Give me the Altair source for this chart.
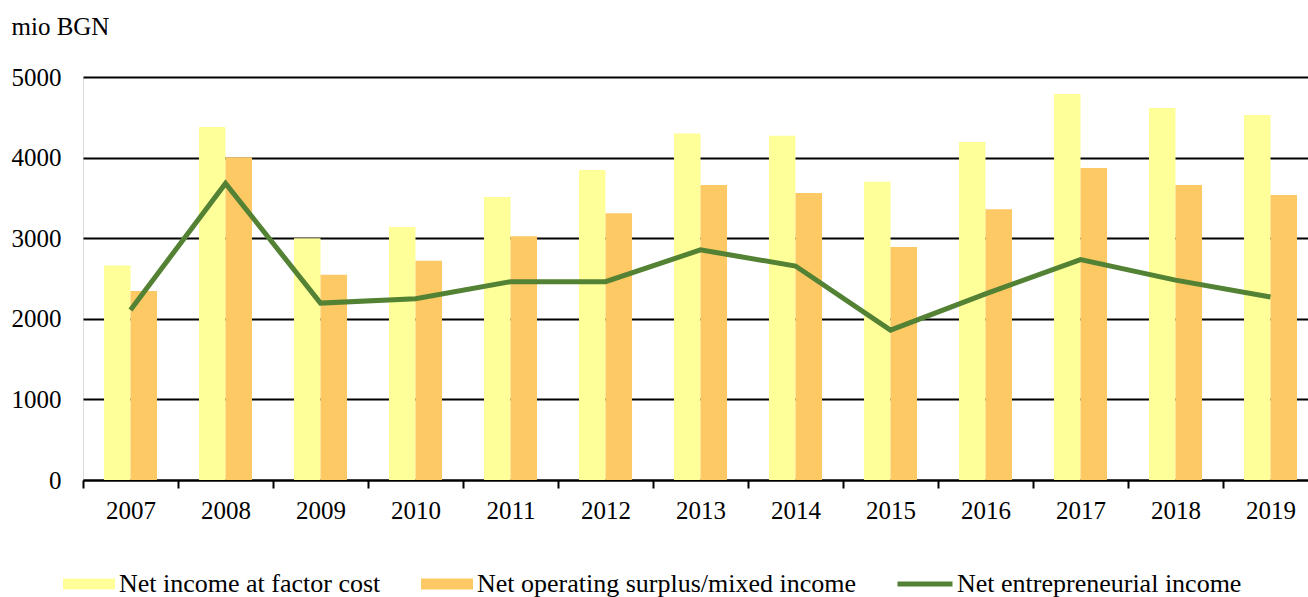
import altair as alt
import pandas as pd

years = [str(y) for y in range(2007, 2020)]
net_income_factor_cost = [2660, 4380, 3000, 3140, 3510, 3845, 4300, 4270, 3700, 4195, 4790, 4615, 4530]
net_operating_surplus = [2345, 4005, 2545, 2720, 3025, 3310, 3660, 3560, 2890, 3360, 3870, 3660, 3535]
net_entrepreneurial_income = [2110, 3680, 2195, 2250, 2460, 2460, 2855, 2655, 1860, 2310, 2735, 2480, 2270]

series_names = [
    "Net income at factor cost",
    "Net operating surplus/mixed income",
    "Net entrepreneurial income",
]
bar_colors = ["#FFFF99", "#FCC964"]
line_color = "#548235"
y_ticks = [0, 1000, 2000, 3000, 4000, 5000]

FONT = "Liberation Serif"
FS = 25
LFS = 26

bars_df = pd.DataFrame({
    "year": years * 2,
    "series": [series_names[0]] * len(years) + [series_names[1]] * len(years),
    "value": net_income_factor_cost + net_operating_surplus,
})
line_df = pd.DataFrame({
    "year": years,
    "series": [series_names[2]] * len(years),
    "value": net_entrepreneurial_income,
})

x_enc = alt.X(
    "year:N",
    sort=years,
    scale=alt.Scale(domain=years, range=[0, 1235], paddingInner=0, paddingOuter=0),
    axis=alt.Axis(
        title=None, labelAngle=0, labelFont=FONT, labelFontSize=FS, labelColor="black",
        labelPadding=10, tickBand="extent", tickColor="black", tickWidth=2, tickSize=8,
        domainColor="black", domainWidth=2, grid=False,
    ),
)
y_enc = alt.Y(
    "value:Q",
    scale=alt.Scale(domain=[0, 5000], nice=False),
    axis=alt.Axis(
        values=y_ticks, format="d", domain=False, ticks=False, grid=True,
        gridColor="black", gridWidth=2, labelPadding=22, labelFont=FONT,
        labelFontSize=FS, labelColor="black",
        title="mio BGN", titleAngle=0, titleAlign="left", titleBaseline="alphabetic",
        titleX=-72, titleY=-43, titleFont=FONT, titleFontSize=FS,
        titleFontWeight="normal", titleColor="black",
    ),
)

bars = alt.Chart(bars_df).mark_bar().encode(
    x=x_enc,
    y=y_enc,
    xOffset=alt.XOffset("series:N", sort=series_names[:2],
                        scale=alt.Scale(paddingInner=0, paddingOuter=0.79)),
    fill=alt.Fill(
        "series:N",
        scale=alt.Scale(domain=series_names[:2], range=bar_colors),
        legend=alt.Legend(
            title=None, orient="none", legendX=-20, legendY=481, direction="horizontal",
            symbolType="M-1,-0.21L1,-0.21L1,0.21L-1,0.21Z", symbolSize=2704,
            symbolStrokeWidth=0, symbolOpacity=1, labelFont=FONT, labelFontSize=LFS,
            labelColor="black", labelOffset=4, columnPadding=40, padding=0, labelLimit=0,
        ),
    ),
)

line = alt.Chart(line_df).mark_line(strokeWidth=5).encode(
    x=x_enc,
    y=y_enc,
    stroke=alt.Stroke(
        "series:N",
        scale=alt.Scale(domain=series_names[2:], range=[line_color]),
        legend=alt.Legend(
            title=None, orient="none", legendX=812, legendY=477, direction="horizontal",
            symbolType="stroke", symbolSize=3025, symbolStrokeWidth=5,
            labelFont=FONT, labelFontSize=LFS, labelColor="black", labelOffset=2,
            padding=0, labelLimit=0,
        ),
    ),
)

chart = alt.layer(bars, line).properties(
    width=1225,
    height=403,
    autosize=alt.AutoSizeParams(type="none"),
    padding={"left": 83, "top": 77, "right": 0, "bottom": 117},
).configure_view(stroke=None).configure(
    background="white", font=FONT
).configure_axis(labelFont=FONT, titleFont=FONT).configure_legend(labelFont=FONT)

chart.save("out.html", embed_options={"renderer": "svg", "actions": False})
